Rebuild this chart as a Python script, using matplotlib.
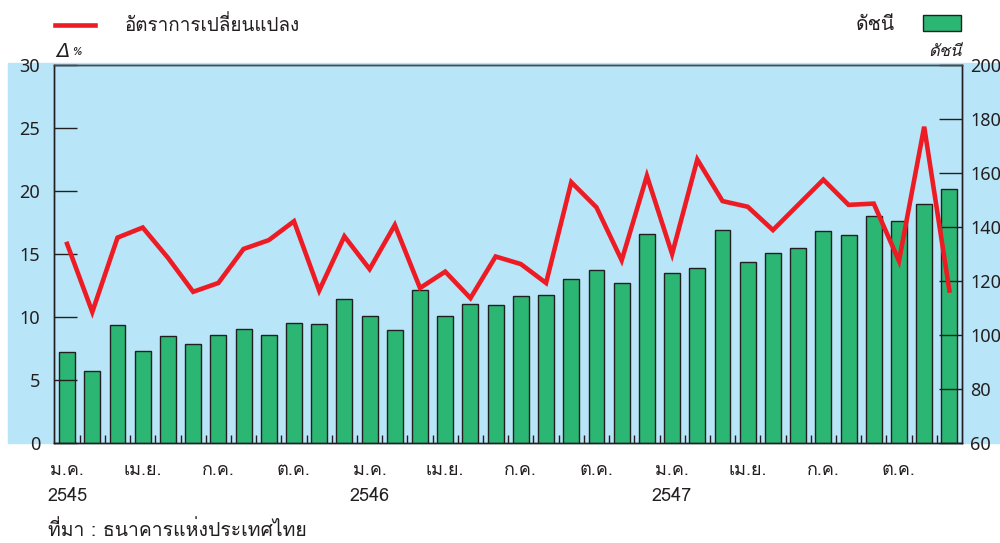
import matplotlib
matplotlib.use("Agg")
import matplotlib.pyplot as plt
from matplotlib.patches import Rectangle
from matplotlib.lines import Line2D

months = ["ม.ค.", "เม.ย.", "ก.ค.", "ต.ค."] * 3
years = ["2545", "2546", "2547"]

# ดัชนี (right axis, bars)
index_vals = [93.8, 86.8, 103.6, 94.0, 99.7, 96.8, 100.1, 102.1, 100.1, 104.4, 104.2, 113.5,
              106.9, 102.0, 116.5, 106.9, 111.3, 111.2, 114.4, 114.9, 120.8, 124.2, 119.3, 137.5,
              122.9, 124.9, 139.0, 127.0, 130.3, 132.2, 138.4, 136.9, 143.9, 142.1, 148.7, 154.1]

# อัตราการเปลี่ยนแปลง (left axis, line)
change_vals = [15.8, 10.4, 16.3, 17.1, 14.7, 12.0, 12.7, 15.4, 16.1, 17.6, 12.1, 16.4,
               13.8, 17.3, 12.3, 13.6, 11.5, 14.8, 14.2, 12.7, 20.7, 18.7, 14.5, 21.2,
               15.0, 22.5, 19.2, 18.75, 16.9, 18.9, 20.9, 18.9, 19.0, 14.45, 25.1, 12.1]

THAI = ["Loma", "DejaVu Sans"]
NUM = ["Noto Sans", "DejaVu Sans"]
plt.rcParams["font.family"] = THAI

BLUE = "#b9e5f8"
GREEN = "#2bb673"
RED = "#ed1c24"
DARK = "#231f20"

fig = plt.figure(figsize=(10, 5.43), dpi=100)
fig.patches.append(Rectangle((0.008, 1 - 443 / 543), 0.992, 380 / 543,
                             transform=fig.transFigure, color=BLUE, zorder=-1))

ax2 = fig.add_axes([0.054, 1 - 443 / 543, 0.908, 378 / 543])
ax1 = ax2.twinx()
ax1.yaxis.tick_left()
ax2.yaxis.tick_right()
ax1.set_zorder(ax2.get_zorder() + 1)
ax1.patch.set_visible(False)
ax2.set_facecolor(BLUE)

x = list(range(len(index_vals)))
ax2.bar(x, index_vals, width=0.63, color=GREEN, edgecolor=DARK, linewidth=1)
ax1.plot(x, change_vals, color=RED, lw=3.3, solid_joinstyle="miter")

ax1.set_xlim(-0.52, 35.5)
ax1.set_ylim(0, 30)
ax2.set_ylim(60, 200)
ax1.set_yticks(range(0, 31, 5))
ax2.set_yticks(range(60, 201, 20))

for ax in (ax1, ax2):
    for s in ax.spines.values():
        s.set_color(DARK)
        s.set_linewidth(1)
ax1.spines["top"].set_color("#3f4d57")
ax1.tick_params(axis="y", direction="in", length=16.5, width=1, color=DARK, pad=10,
                labelsize=13, labelcolor=DARK)
ax2.tick_params(axis="y", direction="in", length=16.5, width=1, color=DARK, pad=6,
                labelsize=13, labelcolor=DARK)
for lab in ax1.get_yticklabels() + ax2.get_yticklabels():
    lab.set_family(NUM)

ax2.set_xticks([i + 0.5 for i in range(35)])
ax2.set_xticklabels([])
ax2.tick_params(axis="x", which="major", direction="in", length=6, width=1, color=DARK)
ax2.set_xticks(range(0, 36, 3), minor=True)
labels = [m + ("\n" + years[k // 4] if k % 4 == 0 else "") for k, m in enumerate(months)]
ax2.set_xticklabels(labels, minor=True, fontsize=13, linespacing=1.6, color=DARK)
ax2.tick_params(axis="x", which="minor", length=0, pad=13)
ax1.tick_params(axis="x", length=0, labelbottom=False)

# legend
fig.add_artist(Line2D([0.055, 0.095], [1 - 25 / 543] * 2, color=RED, lw=3.3,
                      transform=fig.transFigure))
fig.text(0.125, 1 - 25 / 543, "อัตราการเปลี่ยนแปลง", fontsize=13.6, va="center", color=DARK)
fig.text(0.895, 1 - 25 / 543, "ดัชนี", fontsize=14, va="center", ha="right", color=DARK)
fig.patches.append(Rectangle((0.923, 1 - 31 / 543), 0.038, 16 / 543, transform=fig.transFigure,
                             facecolor=GREEN, edgecolor=DARK, lw=1))
fig.text(0.056, 1 - 52 / 543, "Δ", fontsize=14, style="italic", va="center", color=DARK)
fig.text(0.071, 1 - 52 / 543, "%", fontsize=8, style="italic", va="center", color=DARK)
fig.text(0.962, 1 - 52 / 543, "ดัชนี", fontsize=12, style="italic", va="center", ha="right", color=DARK)
fig.text(0.048, 1 - 530 / 543, "ที่มา : ธนาคารแห่งประเทศไทย", fontsize=14, va="center", color=DARK)

fig.savefig("out.png", dpi=100)
